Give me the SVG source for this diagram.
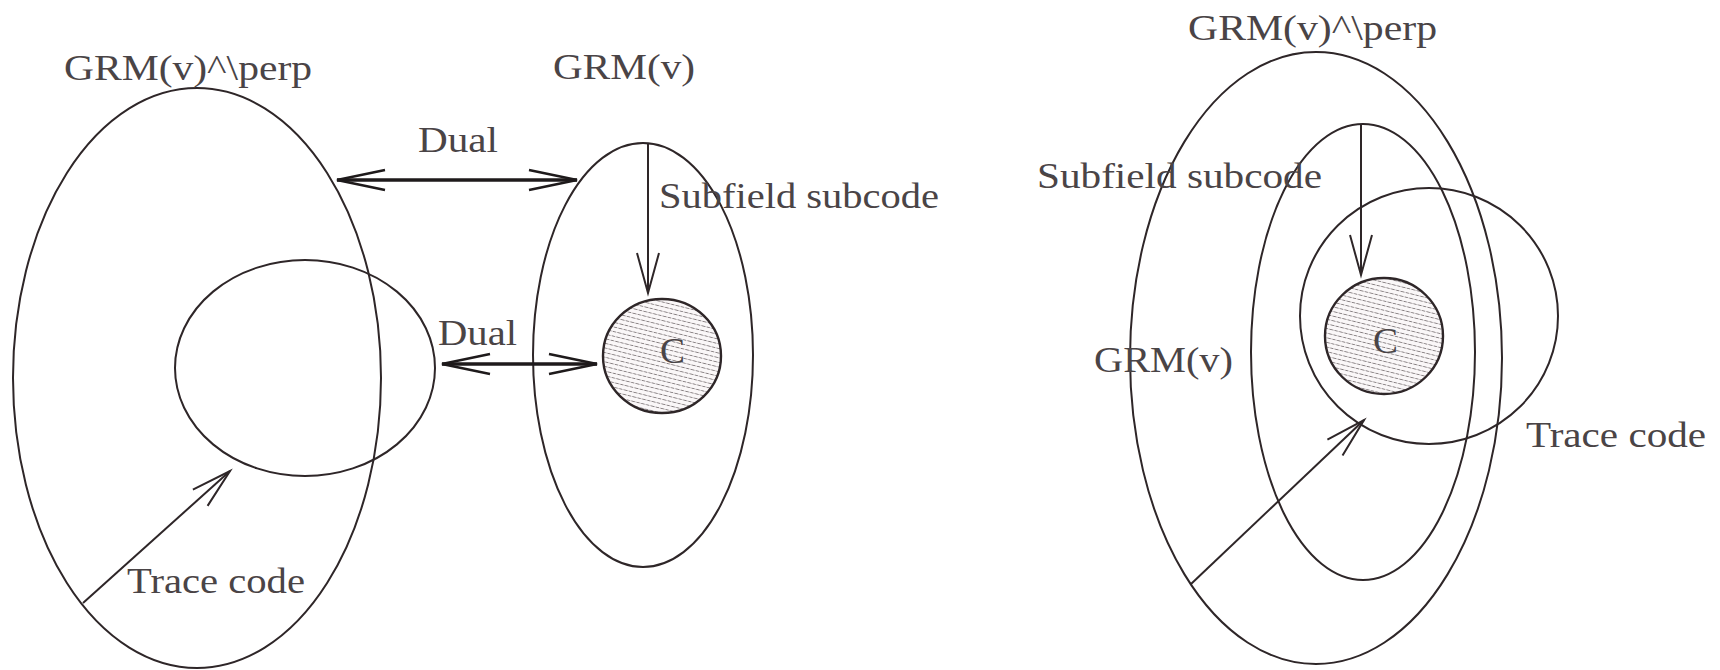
<svg xmlns="http://www.w3.org/2000/svg" width="1720" height="670" viewBox="0 0 1720 670">
<style>
.ln{fill:none;stroke:#2e2628;stroke-width:2}
.thk{fill:none;stroke:#1e1a1b;stroke-width:3.4}
.hatch{fill:url(#hp);stroke:#2e2628;stroke-width:2.4}
.t{font-family:"Liberation Serif","Times New Roman",serif;font-size:35px;fill:#4a4446}
</style>
<defs>
<pattern id="hp" width="10" height="4.5" patternUnits="userSpaceOnUse" patternTransform="rotate(14)">
<rect width="10" height="4.5" fill="#faf7f8"/>
<line x1="0" y1="2.25" x2="10" y2="2.25" stroke="#7d7678" stroke-width="0.9" stroke-dasharray="3.5 1.2"/>
</pattern>
<marker id="ah" markerUnits="userSpaceOnUse" markerWidth="60" markerHeight="30" refX="50" refY="15" orient="auto-start-reverse">
<path d="M2,5 L50,15 L2,25" fill="none" stroke="#1e1a1b" stroke-width="2.4"/>
</marker>
<marker id="ahs" markerUnits="userSpaceOnUse" markerWidth="50" markerHeight="30" refX="42" refY="15" orient="auto">
<path d="M2,4 L42,15 L2,26" fill="none" stroke="#2e2628" stroke-width="2"/>
</marker>
</defs>

<g id="left-perp">
<ellipse class="ln" cx="197" cy="378" rx="184" ry="290"/>
<text class="t" x="64" y="80" textLength="248" lengthAdjust="spacingAndGlyphs">GRM(v)^\perp</text>
</g>
<g id="left-trace">
<ellipse class="ln" cx="305" cy="368" rx="130" ry="108"/>
<text class="t" x="127" y="593" textLength="178" lengthAdjust="spacingAndGlyphs">Trace code</text>
</g>
<g id="left-grm">
<ellipse class="ln" cx="643" cy="355" rx="110" ry="212"/>
<text class="t" x="553" y="79" textLength="142" lengthAdjust="spacingAndGlyphs">GRM(v)</text>
</g>
<g id="left-c">
<ellipse class="hatch" cx="662" cy="356" rx="59" ry="57"/>
<text class="t" x="660" y="363" textLength="25" lengthAdjust="spacingAndGlyphs">C</text>
</g>

<g id="right-perp">
<ellipse class="ln" cx="1316" cy="358" rx="186" ry="306"/>
<text class="t" x="1188" y="40" textLength="249" lengthAdjust="spacingAndGlyphs">GRM(v)^\perp</text>
</g>
<g id="right-grm">
<ellipse class="ln" cx="1363" cy="352" rx="112" ry="228"/>
<text class="t" x="1094" y="372" textLength="139" lengthAdjust="spacingAndGlyphs">GRM(v)</text>
</g>
<g id="right-trace">
<ellipse class="ln" cx="1429" cy="316" rx="129" ry="128"/>
<text class="t" x="1526" y="447" textLength="180" lengthAdjust="spacingAndGlyphs">Trace code</text>
</g>
<g id="right-c">
<ellipse class="hatch" cx="1384" cy="336" rx="59" ry="58"/>
<text class="t" x="1373" y="353" textLength="25" lengthAdjust="spacingAndGlyphs">C</text>
</g>

<g id="connectors">
<line class="thk" x1="337" y1="180" x2="577" y2="180" marker-start="url(#ah)" marker-end="url(#ah)"/>
<text class="t" x="418" y="152" textLength="80" lengthAdjust="spacingAndGlyphs">Dual</text>
<line class="thk" x1="442" y1="364" x2="597" y2="364" marker-start="url(#ah)" marker-end="url(#ah)"/>
<text class="t" x="438" y="345" textLength="79" lengthAdjust="spacingAndGlyphs">Dual</text>
<line class="ln" x1="648" y1="143" x2="648" y2="293" marker-end="url(#ahs)"/>
<text class="t" x="659" y="208" textLength="280" lengthAdjust="spacingAndGlyphs">Subfield subcode</text>
<line class="ln" x1="83" y1="603" x2="230" y2="471" marker-end="url(#ahs)"/>
<line class="ln" x1="1361" y1="124" x2="1361" y2="275" marker-end="url(#ahs)"/>
<text class="t" x="1037" y="188" textLength="285" lengthAdjust="spacingAndGlyphs">Subfield subcode</text>
<line class="ln" x1="1191" y1="584" x2="1364" y2="420" marker-end="url(#ahs)"/>
</g>
</svg>
